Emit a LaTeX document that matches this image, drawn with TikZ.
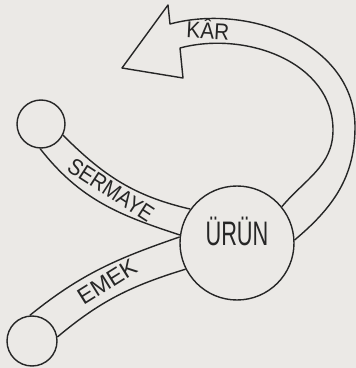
\documentclass[tikz,border=0pt]{standalone}
\usepackage{fontspec}
\setmainfont{Liberation Sans}
\definecolor{ink}{HTML}{262626}
\definecolor{paper}{HTML}{EBE9E6}
\begin{document}
\begin{tikzpicture}[x=1pt,y=1pt,color=ink,line width=1.4pt,
    src/.style={circle,draw=ink,inner sep=0pt},
    lbl/.style={text=ink,font=\fontsize{23}{23}\selectfont,inner sep=0pt}]
  \fill[paper] (0,0) rectangle (356,368);
  \useasboundingbox (0,0) rectangle (356,368);
  \node[src,minimum size=114pt,text depth=23pt,font=\fontsize{34}{34}\selectfont] (u) at (237,125) {\scalebox{0.64}[1]{ÜRÜN}};
  \node[src,minimum size=48pt] (s) at (41,244) {};
  \node[src,minimum size=50pt] (e) at (32,27) {};
  \coordinate (kr) at (355,241);
  \coordinate (ko) at (170,344);
  \coordinate (kb) at (168,363);
  \coordinate (kt) at (122,300);
  \coordinate (kc) at (183,290);
  \coordinate (ki) at (180,320);
  \coordinate (kq) at (333,238);
  \draw (s.-27) to[out=-45,in=167] (u.144);
  \draw (s.-92) to[out=-52,in=162] (u.172);
  \draw (e.95) to[out=39,in=199] (u.174);
  \draw (e.9) to[out=40,in=197] (u.207);
  \draw[line join=round] (u.3) to[out=40,in=-90] (kr) to[out=90,in=15] (ko) -- (kb) -- (kt) -- (kc) -- (ki) to[out=15,in=90] (kq) to[out=-90,in=50] (u.39);
  \node[lbl,rotate=-33] (sl) at (111,178) {\scalebox{0.88}[1]{SERMAYE}};
  \node[lbl,rotate=32] (el) at (107,86) {EMEK};
  \node[lbl,rotate=-3] (kl) at (208,339) {\scalebox{0.9}[1]{KÂR}};
\end{tikzpicture}
\end{document}
